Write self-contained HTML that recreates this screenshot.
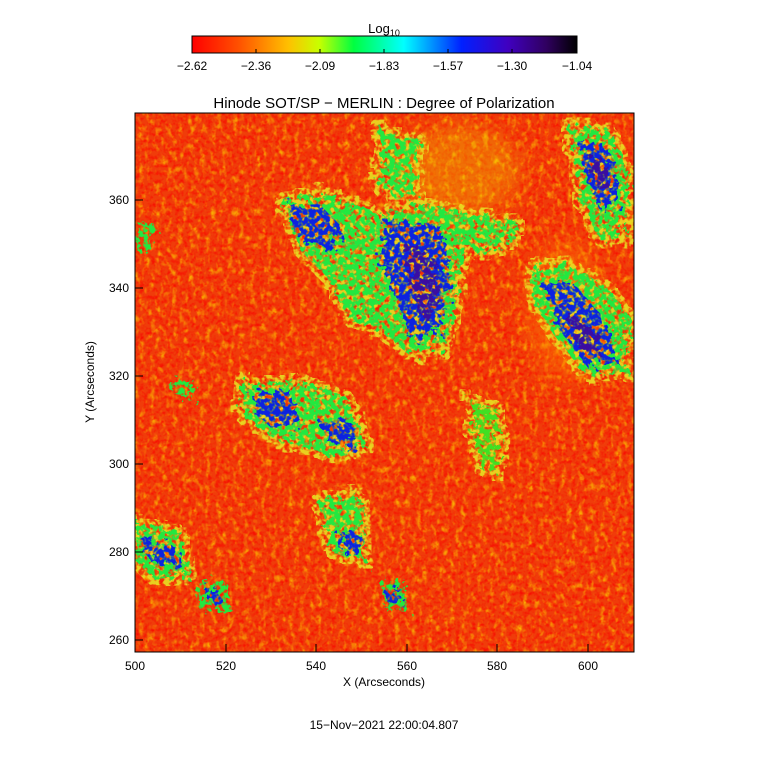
<!DOCTYPE html>
<html><head><meta charset="utf-8"><style>
body{margin:0;background:#fff;}
svg{display:block;font-family:"Liberation Sans","DejaVu Sans",sans-serif;}
</style></head><body>
<svg width="768" height="768" viewBox="0 0 768 768" xmlns="http://www.w3.org/2000/svg">
<defs>
<linearGradient id="cb" x1="0" x2="1" y1="0" y2="0">
<stop offset="0" stop-color="#ff0000"/>
<stop offset="0.12" stop-color="#ff5000"/>
<stop offset="0.25" stop-color="#ffc000"/>
<stop offset="0.33" stop-color="#c8ff00"/>
<stop offset="0.42" stop-color="#00ff40"/>
<stop offset="0.55" stop-color="#00ffff"/>
<stop offset="0.7" stop-color="#0020ff"/>
<stop offset="0.82" stop-color="#4000c0"/>
<stop offset="0.92" stop-color="#300060"/>
<stop offset="1" stop-color="#000000"/>
</linearGradient>
<filter id="speck" x="0" y="0" width="100%" height="100%">
<feTurbulence type="fractalNoise" baseFrequency="0.18 0.12" numOctaves="2" seed="3"/>
<feColorMatrix type="matrix" values="0 0 0 0 1  0 0 0 0 0.8  0 0 0 0 0  1.8 0 0 0 -0.85"/>
</filter>
<filter id="speck2" x="0" y="0" width="100%" height="100%">
<feTurbulence type="fractalNoise" baseFrequency="0.25" numOctaves="2" seed="11"/>
<feColorMatrix type="matrix" values="0 0 0 0 0.95  0 0 0 0 0  0 0 0 0 0  2.2 0 0 0 -0.95"/>
</filter>
<filter id="blur"><feGaussianBlur stdDeviation="10"/></filter>
<filter id="rough" filterUnits="userSpaceOnUse" x="100" y="80" width="570" height="610">
<feTurbulence type="fractalNoise" baseFrequency="0.12" numOctaves="3" seed="5" result="n"/>
<feDisplacementMap in="SourceGraphic" in2="n" scale="26" result="d"/>
<feTurbulence type="fractalNoise" baseFrequency="0.2" numOctaves="2" seed="21" result="m"/>
<feColorMatrix in="m" type="matrix" values="0 0 0 0 0  0 0 0 0 0  0 0 0 0 0  6 0 0 0 -2.2" result="ma"/>
<feComposite in="d" in2="ma" operator="in"/>
</filter>
<filter id="halo" filterUnits="userSpaceOnUse" x="100" y="80" width="570" height="610">
<feTurbulence type="fractalNoise" baseFrequency="0.12" numOctaves="3" seed="5" result="n"/>
<feDisplacementMap in="SourceGraphic" in2="n" scale="26" result="d"/>
<feMorphology in="d" operator="dilate" radius="5" result="e"/>
<feTurbulence type="fractalNoise" baseFrequency="0.2" numOctaves="2" seed="8" result="m"/>
<feColorMatrix in="m" type="matrix" values="0 0 0 0 0  0 0 0 0 0  0 0 0 0 0  5 0 0 0 -2" result="ma"/>
<feComposite in="e" in2="ma" operator="in"/>
</filter>
<clipPath id="pc"><rect x="135" y="113" width="499" height="539"/></clipPath>
</defs>
<text x="384" y="33" font-size="13" text-anchor="middle">Log<tspan font-size="9" dy="3">10</tspan></text>
<rect x="192" y="36" width="385" height="17" fill="url(#cb)" stroke="#000" stroke-width="1"/>
<g stroke="#000" stroke-width="1">
<line x1="256" y1="53" x2="256" y2="49"/><line x1="320" y1="53" x2="320" y2="49"/><line x1="384" y1="53" x2="384" y2="49"/><line x1="448" y1="53" x2="448" y2="49"/><line x1="512" y1="53" x2="512" y2="49"/>
</g>
<g font-size="12" text-anchor="middle">
<text x="192" y="70">−2.62</text><text x="256" y="70">−2.36</text><text x="320" y="70">−2.09</text><text x="384" y="70">−1.83</text><text x="448" y="70">−1.57</text><text x="512" y="70">−1.30</text><text x="577" y="70">−1.04</text>
</g>
<text x="384" y="108" font-size="15" text-anchor="middle">Hinode SOT/SP − MERLIN : Degree of Polarization</text>
<g clip-path="url(#pc)">
<rect x="135" y="113" width="499" height="539" fill="#f03c0a"/>
<rect x="135" y="113" width="499" height="539" filter="url(#speck)" opacity="0.9"/>
<rect x="135" y="113" width="499" height="539" filter="url(#speck2)" opacity="0.8"/>
<g filter="url(#blur)" opacity="0.35">
<ellipse cx="460" cy="170" rx="60" ry="45" fill="#f0d000"/>
<ellipse cx="565" cy="310" rx="40" ry="70" fill="#ff9000"/>
</g>
<g fill="#e8e020" opacity="0.9" filter="url(#halo)">
<path d="M280 200 L330 195 L380 215 L430 205 L480 215 L520 225 L500 250 L460 250 L455 300 L445 345 L410 355 L380 330 L350 320 L330 280 L300 250 Z"/>
<path d="M380 130 L420 140 L410 200 L380 190 Z"/>
<path d="M530 270 L570 265 L610 290 L630 320 L625 370 L585 375 L555 335 L535 305 Z"/>
<path d="M570 125 L610 130 L630 180 L625 230 L600 240 L580 200 Z"/>
<path d="M240 385 L300 380 L350 400 L365 445 L330 455 L280 440 L245 420 Z"/>
<path d="M320 500 L360 495 L365 560 L330 550 Z"/>
<path d="M135 525 L180 530 L190 575 L150 575 L135 560 Z"/>
<path d="M470 400 L500 410 L495 470 L480 470 Z"/>
</g>
<g filter="url(#rough)">
<path d="M280 200 L330 195 L380 215 L430 205 L480 215 L520 225 L500 250 L460 250 L455 300 L445 345 L410 355 L380 330 L350 320 L330 280 L300 250 Z" fill="#20e840"/>
<path d="M380 130 L420 140 L410 200 L380 190 Z" fill="#20e840"/>
<path d="M530 270 L570 265 L610 290 L630 320 L625 370 L585 375 L555 335 L535 305 Z" fill="#20e840"/>
<path d="M570 125 L610 130 L630 180 L625 230 L600 240 L580 200 Z" fill="#20e840"/>
<path d="M240 385 L300 380 L350 400 L365 445 L330 455 L280 440 L245 420 Z" fill="#20e840"/>
<path d="M320 500 L360 495 L365 560 L330 550 Z" fill="#20e840"/>
<path d="M135 525 L180 530 L190 575 L150 575 L135 560 Z" fill="#20e840"/>
<path d="M195 585 L225 580 L230 610 L200 610 Z" fill="#20e840"/>
<path d="M380 580 L405 580 L405 610 L385 610 Z" fill="#20e840"/>
<path d="M135 220 L155 225 L150 250 L135 250 Z" fill="#20e840"/>
<path d="M175 375 L195 380 L190 400 L175 395 Z" fill="#20e840"/>
<path d="M470 400 L500 410 L495 470 L480 470 Z" fill="#40e020"/>
</g>
<g filter="url(#rough)">
<path d="M285 205 L320 205 L345 230 L330 250 L300 240 Z" fill="#1020e0"/>
<path d="M385 220 L440 225 L450 280 L440 330 L410 340 L395 300 L380 260 Z" fill="#1020e0"/>
<path d="M540 280 L575 285 L605 320 L615 360 L585 365 L560 330 Z" fill="#1020e0"/>
<path d="M580 140 L610 150 L620 200 L600 210 L585 175 Z" fill="#1020e0"/>
<path d="M250 395 L290 390 L300 420 L280 430 L255 415 Z" fill="#1020e0"/>
<path d="M320 420 L350 420 L355 450 L330 445 Z" fill="#1020e0"/>
<path d="M140 538 L175 545 L180 565 L150 562 Z" fill="#1020e0"/>
<path d="M340 530 L360 532 L358 555 L340 550 Z" fill="#1020e0"/>
<path d="M385 588 L400 588 L398 605 L386 603 Z" fill="#1020e0"/>
<path d="M205 590 L220 590 L218 603 L205 602 Z" fill="#1020e0"/>
</g>
<g filter="url(#rough)">
<path d="M405 245 L430 250 L440 300 L425 320 L410 290 Z" fill="#3a0aa0"/>
<path d="M565 310 L595 330 L600 355 L580 350 Z" fill="#3a0aa0"/>
<path d="M590 155 L605 160 L610 190 L595 185 Z" fill="#3a0aa0"/>
</g>
</g>
<rect x="135" y="113" width="499" height="539" fill="none" stroke="#000" stroke-width="1"/>
<g stroke="#000" stroke-width="1">
<line x1="226" y1="652" x2="226" y2="644"/><line x1="316" y1="652" x2="316" y2="644"/><line x1="407" y1="652" x2="407" y2="644"/><line x1="497" y1="652" x2="497" y2="644"/><line x1="588" y1="652" x2="588" y2="644"/>
<line x1="135" y1="200" x2="143" y2="200"/><line x1="135" y1="288" x2="143" y2="288"/><line x1="135" y1="376" x2="143" y2="376"/><line x1="135" y1="464" x2="143" y2="464"/><line x1="135" y1="552" x2="143" y2="552"/><line x1="135" y1="640" x2="143" y2="640"/>
</g>
<g font-size="12" text-anchor="middle">
<text x="135" y="670">500</text><text x="226" y="670">520</text><text x="316" y="670">540</text><text x="407" y="670">560</text><text x="497" y="670">580</text><text x="588" y="670">600</text>
</g>
<g font-size="12" text-anchor="end">
<text x="129" y="204">360</text><text x="129" y="292">340</text><text x="129" y="380">320</text><text x="129" y="468">300</text><text x="129" y="556">280</text><text x="129" y="644">260</text>
</g>
<text x="384" y="686" font-size="12" text-anchor="middle">X (Arcseconds)</text>
<text x="94" y="382" font-size="12" text-anchor="middle" transform="rotate(-90 94 382)">Y (Arcseconds)</text>
<text x="384" y="729" font-size="12" text-anchor="middle">15−Nov−2021 22:00:04.807</text>
</svg>
</body></html>
